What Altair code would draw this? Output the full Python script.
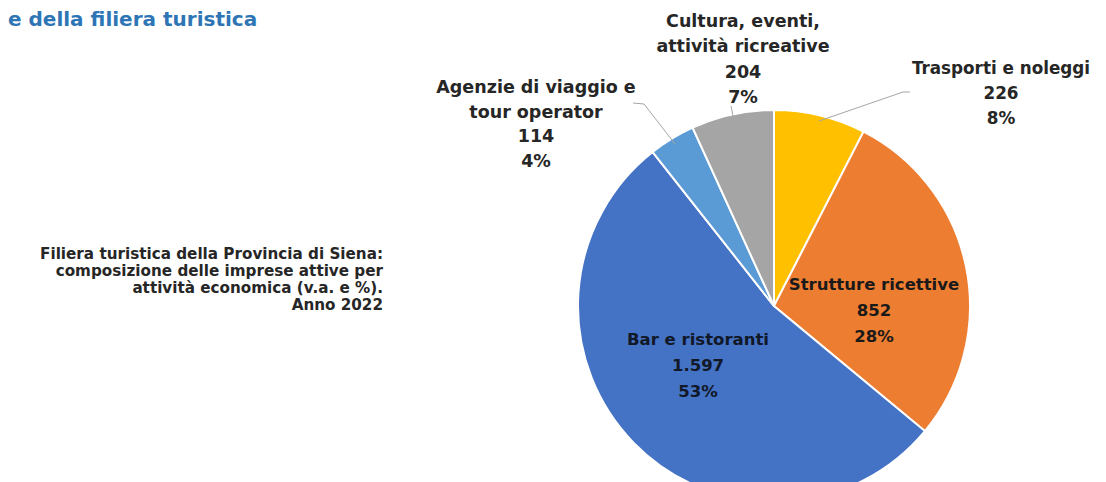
import altair as alt
import pandas as pd

# ---- data ----
categories = [
    "Trasporti e noleggi",
    "Strutture ricettive",
    "Bar e ristoranti",
    "Agenzie di viaggio e tour operator",
    "Cultura, eventi, attività ricreative",
]
imprese = [226, 852, 1597, 114, 204]
label_lines = [
    ["Trasporti e noleggi"],
    ["Strutture ricettive"],
    ["Bar e ristoranti"],
    ["Agenzie di viaggio e", "tour operator"],
    ["Cultura, eventi,", "attività ricreative"],
]
slice_colors = ["#FFC000", "#ED7D31", "#4472C4", "#5B9BD5", "#A5A5A5"]

title_text = "e della filiera turistica"
note_lines = [
    "Filiera turistica della Provincia di Siena:",
    "composizione delle imprese attive per",
    "attività economica (v.a. e %).",
    "Anno 2022",
]

# ---- layout (chart pixel coordinates) ----
FONT = "DejaVu Sans"
CX, CY, R = 766, 298, 196
label_pos = [(993, 61, 25), (866, 277, 26), (690, 332, 26), (528, 80, 24.5), (735, 14, 25.3)]
label_size = [16.8, 16.5, 16.5, 17.5, 17.5]
label_col = ["#262626", "#1a1a1a", "#111827", "#262626", "#262626"]

total = sum(imprese)


def fmt_it(n):
    return f"{n:,}".replace(",", ".")


pie_df = pd.DataFrame({"cat": categories, "value": imprese, "idx": list(range(len(categories)))})

pie = alt.Chart(pie_df).mark_arc(radius=R, stroke="white", strokeWidth=2).encode(
    theta=alt.Theta("value:Q", stack=True),
    color=alt.Color("cat:N", scale=alt.Scale(domain=categories, range=slice_colors), legend=None),
    order=alt.Order("idx:Q"),
    x=alt.value(CX),
    y=alt.value(CY),
)

rows = []
for i, cat in enumerate(categories):
    lines = label_lines[i] + [fmt_it(imprese[i]), f"{round(imprese[i] / total * 100)}%"]
    x0, y0, lh = label_pos[i]
    for j, ln in enumerate(lines):
        rows.append({"t": ln, "px": x0, "py": y0 + j * lh, "col": label_col[i], "fs": label_size[i]})
lab_df = pd.DataFrame(rows)

labels = alt.Chart(lab_df).mark_text(
    font=FONT, fontWeight="bold", align="center", baseline="middle"
).encode(
    x=alt.X("px:Q", scale=None, axis=None),
    y=alt.Y("py:Q", scale=None, axis=None),
    text="t:N",
    color=alt.Color("col:N", scale=None),
    size=alt.Size("fs:Q", scale=None, legend=None),
)

# leader lines (annotation)
leader_df = pd.DataFrame({
    "x1": [625, 636, 723, 811, 895],
    "y1": [95, 96, 98, 113, 84],
    "x2": [636, 667, 726, 895, 902],
    "y2": [96, 136, 113, 84, 84],
})
leaders = alt.Chart(leader_df).mark_rule(color="#a6a6a6", strokeWidth=1).encode(
    x=alt.X("x1:Q", scale=None, axis=None),
    y=alt.Y("y1:Q", scale=None, axis=None),
    x2="x2:Q",
    y2="y2:Q",
)

note_df = pd.DataFrame({"t": note_lines, "px": [375] * 4, "py": [246 + 17 * k for k in range(4)]})
note = alt.Chart(note_df).mark_text(
    font=FONT, fontSize=15.2, fontWeight="bold", align="right", baseline="middle", color="#262626"
).encode(
    x=alt.X("px:Q", scale=None, axis=None),
    y=alt.Y("py:Q", scale=None, axis=None),
    text="t:N",
)

title_df = pd.DataFrame({"t": [title_text], "px": [0], "py": [12]})
title = alt.Chart(title_df).mark_text(
    font=FONT, fontSize=20, fontWeight="bold", align="left", baseline="middle", color="#2E75B6"
).encode(
    x=alt.X("px:Q", scale=None, axis=None),
    y=alt.Y("py:Q", scale=None, axis=None),
    text="t:N",
)

chart = alt.layer(pie, leaders, labels, note, title).properties(
    width=1090,
    height=474,
    padding=0,
    autosize=alt.AutoSizeParams(type="fit", contains="padding"),
    background="white",
).configure_view(stroke=None)

chart.save("out.html", embed_options={"renderer": "svg", "actions": False})
